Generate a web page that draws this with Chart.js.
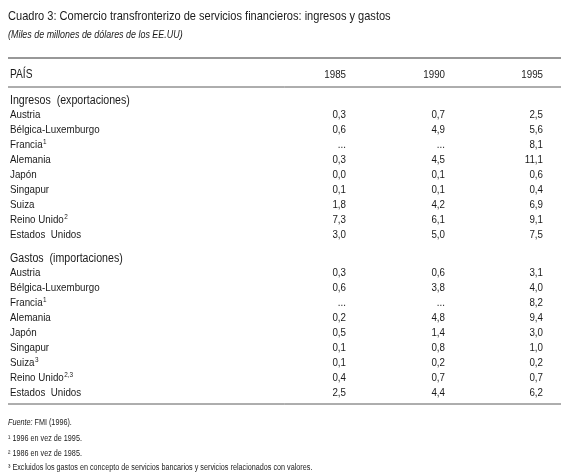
<!DOCTYPE html>
<html><head><meta charset="utf-8">
<script src="https://cdn.jsdelivr.net/npm/chart.js@4"></script>
<style>html,body{margin:0;padding:0;background:#fff}#wrap{width:569px;height:474px}</style>
</head><body><div id="wrap"><canvas id="c"></canvas></div>
<script>
const title = "Cuadro 3: Comercio transfronterizo de servicios financieros: ingresos y gastos";
const subtitle = "(Miles de millones de dólares de los EE.UU)";
const years = ["1985", "1990", "1995"];
const headerLabel = "PAÍS";
const section1 = "Ingresos  (exportaciones)";
const section2 = "Gastos  (importaciones)";
const countries1 = ["Austria","Bélgica-Luxemburgo","Francia","Alemania","Japón","Singapur","Suiza","Reino Unido","Estados  Unidos"];
const notes1 = ["","","1","","","","","2",""];
const ing1985 = [0.3,0.6,null,0.3,0.0,0.1,1.8,7.3,3.0];
const ing1990 = [0.7,4.9,null,4.5,0.1,0.1,4.2,6.1,5.0];
const ing1995 = [2.5,5.6,8.1,11.1,0.6,0.4,6.9,9.1,7.5];
const countries2 = ["Austria","Bélgica-Luxemburgo","Francia","Alemania","Japón","Singapur","Suiza","Reino Unido","Estados  Unidos"];
const notes2 = ["","","1","","","","3","2,3",""];
const gas1985 = [0.3,0.6,null,0.2,0.5,0.1,0.1,0.4,2.5];
const gas1990 = [0.6,3.8,null,4.8,1.4,0.8,0.2,0.7,4.4];
const gas1995 = [3.1,4.0,8.2,9.4,3.0,1.0,0.2,0.7,6.2];
const source = "FMI (1996).";
const footnotes = ["¹ 1996 en vez de 1995.","² 1986 en vez de 1985.","³ Excluidos los gastos en concepto de servicios bancarios y servicios relacionados con valores."];

const F = '"Liberation Sans",Arial,sans-serif';
const SQ = 0.85;
const fmt = v => v === null ? "..." : v.toFixed(1).replace(".", ",");
const colX = [346, 445, 543];

const tablePlugin = {
  id: 'table',
  afterDraw(chart) {
    const ctx = chart.ctx, sx = chart.scales.x, sy = chart.scales.y;
    const X = v => sx.getPixelForValue(v), Y = v => sy.getPixelForValue(v);
    ctx.save();
    ctx.fillStyle = '#1a1a1a';
    ctx.textBaseline = 'alphabetic';
    const txt = (s, x, y, size, align, style) => {
      ctx.font = (style||'') + ' ' + size + 'px ' + F;
      ctx.textAlign = align || 'left';
      ctx.save();
      ctx.translate(X(x), Y(y));
      ctx.scale(SQ, 1);
      ctx.fillText(s, 0, 0);
      ctx.restore();
      return ctx.measureText(s).width * SQ;
    };
    txt(title, 8, 20, 13);
    txt(subtitle, 8, 38, 10.5, 'left', 'italic');
    const hline = (y, w) => { ctx.strokeStyle = '#333'; ctx.lineWidth = w; ctx.beginPath(); ctx.moveTo(X(8), Y(y)); ctx.lineTo(X(561), Y(y)); ctx.stroke(); };
    hline(58, 1.2);
    txt(headerLabel, 10, 78, 12);
    years.forEach((y, i) => txt(y, colX[i], 78, 11.5, 'right'));
    hline(87, 0.8);
    const block = (head, yHead, names, notes, a, b, c) => {
      txt(head, 10, yHead, 12.5);
      names.forEach((n, i) => {
        const y = yHead + 14 + i * 15.05;
        const w = txt(n, 10, y, 11.5);
        if (notes[i]) txt(notes[i], 10 + w + 0.5, y - 4, 7.5);
        [a, b, c].forEach((arr, j) => txt(fmt(arr[i]), colX[j], y, 11.5, 'right'));
      });
    };
    block(section1, 104, countries1, notes1, ing1985, ing1990, ing1995);
    block(section2, 262, countries2, notes2, gas1985, gas1990, gas1995);
    hline(404, 0.8);
    const w = txt("Fuente:", 8, 425, 8.5, 'left', 'italic');
    txt(" " + source, 8 + w, 425, 8.5);
    footnotes.forEach((f, i) => txt(f, 8, 441 + i * 14.5, 8.5));
    ctx.restore();
  }
};

new Chart(document.getElementById('c'), {
  type: 'scatter',
  data: { datasets: [{ data: [], pointRadius: 0 }] },
  options: {
    responsive: true, maintainAspectRatio: false, animation: false,
    layout: { padding: 0 },
    plugins: { legend: { display: false }, tooltip: { enabled: false } },
    scales: {
      x: { type: 'linear', min: 0, max: 569, display: false },
      y: { type: 'linear', min: 0, max: 474, reverse: true, display: false }
    }
  },
  plugins: [tablePlugin]
});
</script></body></html>
